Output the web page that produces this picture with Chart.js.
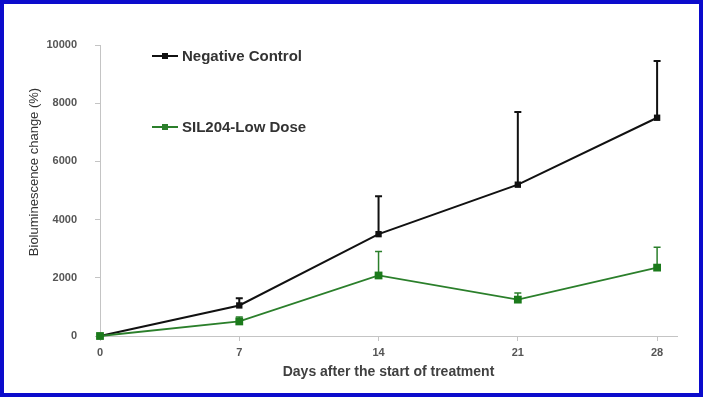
<!DOCTYPE html>
<html lang="en">

<head>
    <meta charset="UTF-8">
    <title>Bioluminescence change</title>
    <script src="https://cdn.jsdelivr.net/npm/chart.js"></script>
    <style>
        body {
            margin: 0;
            background-color: #ffffff;
        }

        #wrap {
            width: 703px;
            height: 397px;
        }
    </style>
</head>

<body>
    <div id="wrap"><canvas id="lumChart" width="703" height="397"></canvas></div>

    <script>
        // Data
        const days = [0, 7, 14, 21, 28];
        const xTicks = [0, 7, 14, 21, 28];
        const yTicks = [0, 2000, 4000, 6000, 8000, 10000];
        const seriesNames = ['Negative Control', 'SIL204-Low Dose'];
        const controlMean = [0, 1050, 3500, 5200, 7500];
        const controlErr = [0, 250, 1300, 2500, 1950];
        const lowDoseMean = [0, 500, 2080, 1250, 2350];
        const lowDoseErr = [0, 150, 820, 230, 700];

        const FONT = '"Liberation Sans", Arial, sans-serif';
        const BLACK = '#111111';
        const GREEN = '#2b7f2b';

        // Upper error bars with a cap, drawn through the scales
        const errorBars = {
            id: 'errorBars',
            beforeDatasetsDraw(chart) {
                const ctx = chart.ctx;
                const xs = chart.scales.x, ys = chart.scales.y;
                chart.data.datasets.forEach(ds => {
                    ctx.save();
                    ctx.strokeStyle = ds.borderColor;
                    ctx.lineWidth = ds.errWidth;
                    ds.data.forEach((p, i) => {
                        const e = ds.errors[i];
                        if (!e) return;
                        const px = xs.getPixelForValue(p.x);
                        const y0 = ys.getPixelForValue(p.y);
                        const y1 = ys.getPixelForValue(p.y + e);
                        ctx.beginPath();
                        ctx.moveTo(px, y0);
                        ctx.lineTo(px, y1);
                        ctx.moveTo(px - 3.5, y1);
                        ctx.lineTo(px + 3.5, y1);
                        ctx.stroke();
                    });
                    ctx.restore();
                });
            }
        };

        // Frame, y title and the in-plot legend
        const decor = {
            id: 'decor',
            beforeDraw(chart) {
                const ctx = chart.ctx;
                ctx.save();
                ctx.fillStyle = '#ffffff';
                ctx.fillRect(0, 0, chart.width, chart.height);
                ctx.restore();
            },
            afterDraw(chart) {
                const ctx = chart.ctx;
                ctx.save();
                // y axis title
                ctx.translate(34, 172);
                ctx.rotate(-Math.PI / 2);
                ctx.font = '13px ' + FONT;
                ctx.fillStyle = '#333333';
                ctx.textAlign = 'center';
                ctx.textBaseline = 'middle';
                ctx.fillText('Bioluminescence change (%)', 0, 0);
                ctx.restore();

                // legend
                const rows = [56, 127];
                const colors = [BLACK, GREEN];
                seriesNames.forEach((name, i) => {
                    const y = rows[i];
                    ctx.save();
                    ctx.strokeStyle = colors[i];
                    ctx.lineWidth = 2;
                    ctx.beginPath();
                    ctx.moveTo(152, y);
                    ctx.lineTo(178, y);
                    ctx.stroke();
                    ctx.fillStyle = colors[i];
                    ctx.fillRect(162, y - 3, 6, 6);
                    ctx.font = 'bold 15px ' + FONT;
                    ctx.fillStyle = '#333333';
                    ctx.textBaseline = 'middle';
                    ctx.fillText(name, 182, y + 1);
                    ctx.restore();
                });

                // blue frame
                ctx.save();
                ctx.strokeStyle = '#0b0bcc';
                ctx.lineWidth = 4;
                ctx.strokeRect(2, 2, chart.width - 4, chart.height - 4);
                ctx.restore();
            }
        };

        const toPoints = arr => arr.map((v, i) => ({ x: days[i], y: v }));

        new Chart(document.getElementById('lumChart'), {
            type: 'line',
            data: {
                datasets: [{
                    label: seriesNames[0],
                    data: toPoints(controlMean),
                    errors: controlErr,
                    errWidth: 2,
                    borderColor: BLACK,
                    backgroundColor: BLACK,
                    borderWidth: 2,
                    pointStyle: 'rect',
                    pointRadius: 4.5,
                    pointBorderWidth: 0,
                    clip: false,
                    order: 1
                }, {
                    label: seriesNames[1],
                    data: toPoints(lowDoseMean),
                    errors: lowDoseErr,
                    errWidth: 1.5,
                    borderColor: GREEN,
                    backgroundColor: '#1b7a1b',
                    borderWidth: 1.8,
                    pointStyle: 'rect',
                    pointRadius: 5.5,
                    pointBorderWidth: 0,
                    clip: false,
                    order: 0
                }]
            },
            options: {
                responsive: false,
                animation: false,
                layout: { padding: { left: 0, top: 45, right: 26, bottom: 0 } },
                plugins: {
                    legend: { display: false },
                    tooltip: { enabled: false }
                },
                scales: {
                    x: {
                        type: 'linear',
                        min: 0,
                        max: 29,
                        afterBuildTicks: s => { s.ticks = xTicks.map(v => ({ value: v })); },
                        afterFit: s => { s.height = 61; },
                        grid: { drawOnChartArea: false, tickLength: 5, color: '#c4c4c4' },
                        border: { color: '#c4c4c4' },
                        ticks: {
                            padding: 5,
                            color: '#555555',
                            callback: v => String(v),
                            font: { family: FONT, size: 11, weight: 'bold' }
                        },
                        title: {
                            display: true,
                            text: 'Days after the start of treatment',
                            color: '#404040',
                            font: { family: FONT, size: 14, weight: 'bold' },
                            padding: { top: 0, bottom: 16.6 }
                        }
                    },
                    y: {
                        min: 0,
                        max: 10000,
                        afterBuildTicks: s => { s.ticks = yTicks.map(v => ({ value: v })); },
                        afterFit: s => { s.width = 100; },
                        grid: { drawOnChartArea: false, tickLength: 5, color: '#c4c4c4' },
                        border: { color: '#c4c4c4' },
                        ticks: {
                            padding: 18,
                            color: '#555555',
                            callback: v => String(v),
                            font: { family: FONT, size: 11, weight: 'bold' }
                        }
                    }
                }
            },
            plugins: [errorBars, decor]
        });
    </script>
</body>

</html>
